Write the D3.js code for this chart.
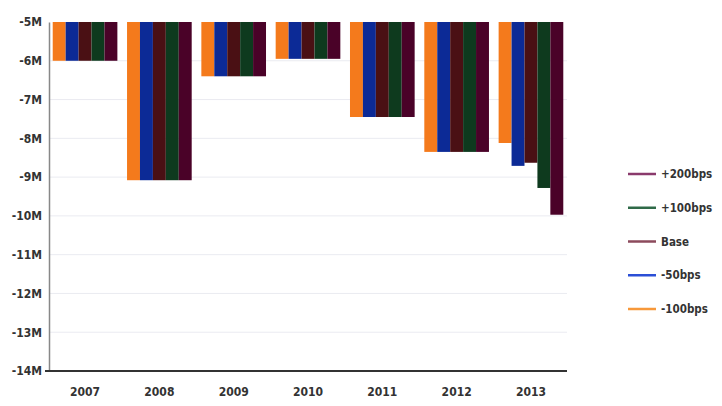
<!DOCTYPE html>
<html>
<head>
<meta charset="utf-8">
<script src="https://cdn.jsdelivr.net/npm/d3@7"></script>
<style>
  body { margin: 0; background: #fff; }
  svg text { font-family: "Liberation Sans Narrow", "Arial Narrow", "DejaVu Sans Condensed", sans-serif; font-weight: bold; fill: #333; }
</style>
</head>
<body>
<div id="chart"></div>
<script>
const years = ['2007', '2008', '2009', '2010', '2011', '2012', '2013'];
const seriesNames = ['-100bps', '-50bps', 'Base', '+100bps', '+200bps'];
// values in millions, per year, one entry per series
const down100 = [-6.0, -9.08, -6.4, -5.95, -7.45, -8.35, -8.12];
const down50  = [-6.0, -9.08, -6.4, -5.95, -7.45, -8.35, -8.71];
const base    = [-6.0, -9.08, -6.4, -5.95, -7.45, -8.35, -8.63];
const up100   = [-6.0, -9.08, -6.4, -5.95, -7.45, -8.35, -9.28];
const up200   = [-6.0, -9.08, -6.4, -5.95, -7.45, -8.35, -9.97];
const yTicks = [-5, -6, -7, -8, -9, -10, -11, -12, -13, -14];

const barColors = ['#f47a1c', '#0c2a96', '#4a1014', '#0e3a1e', '#4a0228'];
const legendColors = ['#f7983a', '#2b4fd6', '#8c4a5c', '#2f6a48', '#8a3a6c'];

const seriesValues = [down100, down50, base, up100, up200];

const W = 722, H = 406;
const margin = { top: 22, right: 155, bottom: 35, left: 49 };
const width = W - margin.left - margin.right;
const height = H - margin.top - margin.bottom;

const svg = d3.select('#chart').append('svg')
  .attr('width', W).attr('height', H);
const g = svg.append('g').attr('transform', `translate(${margin.left},${margin.top})`);

const x0 = d3.scaleBand().domain(years).range([0, width]).paddingInner(0.13).paddingOuter(0.05);
const x1 = d3.scaleBand().domain(seriesNames).range([0, x0.bandwidth()]).padding(0);
const y = d3.scaleLinear().domain([-5, -14]).range([0, height]);

// gridlines
g.append('g')
  .selectAll('line')
  .data(yTicks.slice(1, -1))
  .join('line')
  .attr('x1', 0).attr('x2', width)
  .attr('y1', d => y(d)).attr('y2', d => y(d))
  .attr('stroke', '#eaebf1').attr('stroke-width', 1);

// bars
const groups = g.selectAll('g.year')
  .data(years)
  .join('g')
  .attr('class', 'year')
  .attr('transform', d => `translate(${x0(d)},0)`);

groups.selectAll('rect')
  .data((yr, i) => seriesNames.map((s, j) => ({ s, j, v: seriesValues[j][i] })))
  .join('rect')
  .attr('x', d => x1(d.s))
  .attr('width', x1.bandwidth())
  .attr('y', y(-5))
  .attr('height', d => y(d.v) - y(-5))
  .attr('fill', d => barColors[d.j]);

// y axis
const yAxis = g.append('g')
  .call(d3.axisLeft(y).tickValues(yTicks).tickSize(0).tickPadding(7).tickFormat(d => d + 'M'));
yAxis.select('.domain').attr('stroke', '#888').attr('stroke-width', 1.5);
yAxis.selectAll('text').style('font-size', '12px').attr('fill', '#333');

// x axis
const xAxis = g.append('g')
  .attr('transform', `translate(0,${height})`)
  .call(d3.axisBottom(x0).tickSize(0).tickPadding(16));
xAxis.select('.domain').attr('stroke', '#333').attr('stroke-width', 2)
  .attr('d', `M-4,0H${width}`);
xAxis.selectAll('text').style('font-size', '12px').attr('fill', '#333');

// legend (top to bottom: reversed series order)
const legendY = d3.scalePoint().domain(seriesNames.slice().reverse()).range([174, 309]);
const legend = svg.append('g').selectAll('g')
  .data(seriesNames.map((s, j) => ({ s, j })))
  .join('g')
  .attr('transform', d => `translate(628,${legendY(d.s)})`);
legend.append('line')
  .attr('x1', 0).attr('x2', 28).attr('y1', 0).attr('y2', 0)
  .attr('stroke', d => legendColors[d.j]).attr('stroke-width', 2.5);
legend.append('text')
  .attr('x', 33).attr('y', 4)
  .style('font-size', '11.5px')
  .attr('fill', '#444')
  .text(d => d.s);
</script>
</body>
</html>
